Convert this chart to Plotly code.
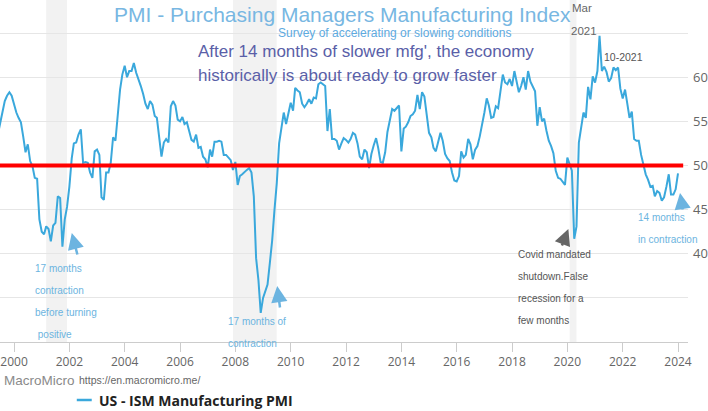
import pandas as pd
import plotly.graph_objects as go

# ISM manufacturing PMI, monthly, Jun 1999 .. Jan 2024
pmi = [
    53.5, 54.7, 56.0, 57.3, 57.9, 58.3, 57.9,                          # 1999 Jun-Dec
    56.9, 56.0, 55.4, 54.9, 53.3, 51.5, 52.4, 50.5, 49.9, 48.6, 48.5, 43.9,  # 2000
    42.5, 42.2, 43.1, 42.8, 41.4, 43.2, 43.5, 46.5, 46.3, 40.8, 43.9, 45.3,  # 2001
    47.6, 50.8, 52.5, 52.6, 53.5, 54.1, 50.3, 50.4, 50.3, 49.2, 48.6, 51.6,  # 2002
    51.8, 51.2, 46.4, 46.1, 49.2, 49.2, 50.3, 53.2, 52.8, 55.6, 58.6, 60.3,  # 2003
    61.3, 60.0, 60.7, 60.7, 61.6, 60.5, 59.8, 59.0, 58.1, 57.0, 56.4, 57.3,  # 2004
    56.9, 55.6, 55.4, 53.2, 51.0, 52.6, 53.0, 52.6, 56.7, 57.3, 56.8, 55.2,  # 2005
    55.0, 55.5, 54.7, 54.9, 53.9, 52.9, 52.7, 53.5, 52.0, 52.1, 51.0, 50.7,  # 2006
    49.8, 51.8, 51.0, 52.7, 52.7, 52.8, 52.7, 51.2, 51.2, 50.9, 50.6, 49.5,  # 2007
    50.4, 47.8, 48.8, 49.0, 49.3, 49.5, 49.7, 49.2, 46.5, 39.5, 37.0, 33.3,  # 2008
    35.0, 35.8, 36.5, 39.0, 41.5, 45.0, 48.0, 52.5, 54.3, 56.0, 54.7, 55.8,  # 2009
    57.1, 56.2, 58.8, 58.5, 58.3, 57.0, 56.6, 57.0, 57.5, 57.0, 57.7, 57.6,  # 2010
    59.2, 59.4, 59.2, 59.0, 53.9, 56.4, 53.0, 53.0, 52.8, 51.8, 52.5, 53.1,  # 2011
    52.9, 52.6, 53.0, 53.7, 53.5, 52.5, 51.0, 50.7, 51.8, 51.5, 49.7, 51.3,  # 2012
    52.3, 53.1, 52.0, 50.4, 50.3, 51.5, 53.8, 55.3, 56.4, 56.2, 56.5, 56.8,  # 2013
    51.6, 54.2, 54.4, 54.9, 55.6, 55.8, 56.2, 58.0, 56.4, 58.3, 57.8, 55.5,  # 2014
    53.7, 53.2, 52.0, 51.6, 52.8, 53.7, 52.8, 51.3, 50.8, 50.5, 49.2, 48.3,  # 2015
    48.2, 48.8, 51.6, 50.9, 51.2, 53.0, 52.4, 50.7, 51.8, 52.2, 53.3, 54.5,  # 2016
    56.0, 57.6, 56.8, 55.4, 55.5, 56.7, 56.5, 58.4, 60.3, 59.4, 59.2, 59.8,  # 2017
    59.0, 60.7, 59.5, 58.3, 59.0, 60.0, 58.6, 60.7, 59.5, 58.9, 58.4, 54.5,  # 2018
    56.6, 55.0, 55.3, 53.9, 52.8, 52.2, 51.4, 49.4, 48.6, 48.5, 48.2, 47.8,  # 2019
    50.9, 50.2, 49.4, 41.7, 43.1, 52.6, 54.2, 56.0, 55.4, 58.9, 57.5, 60.1,  # 2020
    59.4, 60.7, 64.7, 60.7, 61.2, 60.6, 59.5, 59.9, 61.1, 60.8, 61.1, 58.7,  # 2021
    57.6, 58.6, 57.1, 55.4, 56.1, 53.0, 52.8, 52.8, 51.2, 50.2, 49.0, 48.4,  # 2022
    47.6, 47.7, 46.5, 47.1, 46.9, 46.0, 46.4, 47.6, 49.0, 46.7, 46.7, 47.3,  # 2023
    49.1,                                                                 # 2024 Jan
]
months = pd.date_range("1999-06-01", periods=len(pmi), freq="MS")
series_name = "US - ISM Manufacturing PMI"

recession_start = ["2001-03-01", "2007-12-01", "2020-02-01"]
recession_end = ["2001-11-30", "2009-06-30", "2020-04-30"]

ytick_vals = [30, 35, 40, 45, 50, 55, 60, 65]
ytick_text = ["", "", "40", "45", "50", "55", "60", ""]

LINE_COLOR = "#3aa8dc"
PLOT_W, PLOT_H = 690, 342


def px(x, y):
    # pixel position inside the plot area -> paper coords
    return x / PLOT_W, (PLOT_H - y) / PLOT_H


fig = go.Figure()
fig.add_trace(go.Scatter(x=months, y=pmi, mode="lines", name=series_name,
                         line=dict(color=LINE_COLOR, width=2)))

for s, e in zip(recession_start, recession_end):
    fig.add_shape(type="rect", xref="x", yref="paper", x0=s, x1=e, y0=0, y1=1,
                  fillcolor="#f2f2f2", line_width=0, layer="below")

fig.add_shape(type="line", xref="paper", yref="y", x0=0, x1=0.993, y0=50, y1=50,
              line=dict(color="#ff0000", width=4))


def note(text, x, y, size=10, color="#6cb4e0", anchor="left", family="Liberation Sans"):
    xp, yp = px(x, y)
    fig.add_annotation(x=xp, y=yp, xref="paper", yref="paper", text=text,
                       showarrow=False, xanchor=anchor, yanchor="middle",
                       font=dict(size=size, color=color, family=family))


def arrow(tip, tail, color="#6cb4e0"):
    xp, yp = px(*tip)
    fig.add_annotation(x=xp, y=yp, xref="paper", yref="paper", text="",
                       showarrow=True, ax=tail[0] - tip[0], ay=tail[1] - tip[1],
                       arrowhead=2, arrowsize=1.3, arrowwidth=2.5, arrowcolor=color)


note("PMI - Purchasing Managers Manufacturing Index", 343, 14, 21, "#78b7e2", "center")
note("Survey of accelerating or slowing conditions", 396, 33, 12, "#5eaadf", "center")
note("After 14 months of slower mfg', the economy", 197, 51, 17, "#5a5fa8")
note("historically is about ready to grow faster", 197, 75, 17, "#5a5fa8")
note("Mar", 572, 8, 11.5, "#666666")
note("2021", 571, 31, 11.5, "#666666")
note("10-2021", 604, 57, 10.5, "#555555")

for i, t in enumerate(["17 months", "contraction", "before turning", " positive"]):
    note(t, 33, 268 + 22 * i)
for i, t in enumerate(["17 months of", "contraction"]):
    note(t, 227, 321 + 22 * i)
for i, t in enumerate(["Covid mandated", "shutdown.False", "recession for a", "few months"]):
    note(t, 518, 254 + 22 * i, 10, "#555555")
for i, t in enumerate(["14 months", "in contraction"]):
    note(t, 638, 217 + 22 * i)

note("MacroMicro", 2, 380, 13.5, "#8a8a8a")
note("https://en.macromicro.me/", 77, 380, 10.5, "#666666")

arrow((72, 233), (78, 256))
arrow((278, 286), (281, 309))
arrow((570, 229), (563, 247), "#666666")
arrow((682, 193), (685, 211))

# legend drawn by hand: short line sample + bold name
lx0, ly = px(77, 400)
lx1, _ = px(92, 400)
fig.add_shape(type="line", xref="paper", yref="paper", x0=lx0, x1=lx1, y0=ly, y1=ly,
              line=dict(color=LINE_COLOR, width=2.5))
note("<b>" + series_name + "</b>", 97, 400, 14, "#222222", family="Open Sans")

fig.update_layout(
    width=708, height=411,
    margin=dict(l=0, r=18, t=0, b=69),
    plot_bgcolor="white", paper_bgcolor="white",
    showlegend=False,
    xaxis=dict(type="date", range=["1999-06-30", "2024-05-12"],
               tick0="2000-01-01", dtick="M24", tickformat="%Y",
               showgrid=False, showline=True, linecolor="#cccccc",
               ticks="outside", ticklen=9, tickcolor="#cccccc",
               tickfont=dict(family="Open Sans", size=12, color="#666666")),
    yaxis=dict(side="right", range=[30, 68.75], tickmode="array",
               tickvals=ytick_vals, ticktext=ytick_text,
               showgrid=True, gridcolor="#e6e6e6", zeroline=False,
               ticklabelstandoff=4,
               tickfont=dict(family="Open Sans", size=13, color="#666666")),
)

# the page gets the browser's default 8px body margin otherwise
fig.write_html("out.html", config={"displayModeBar": False},
               post_script="document.body.style.margin='0';")
